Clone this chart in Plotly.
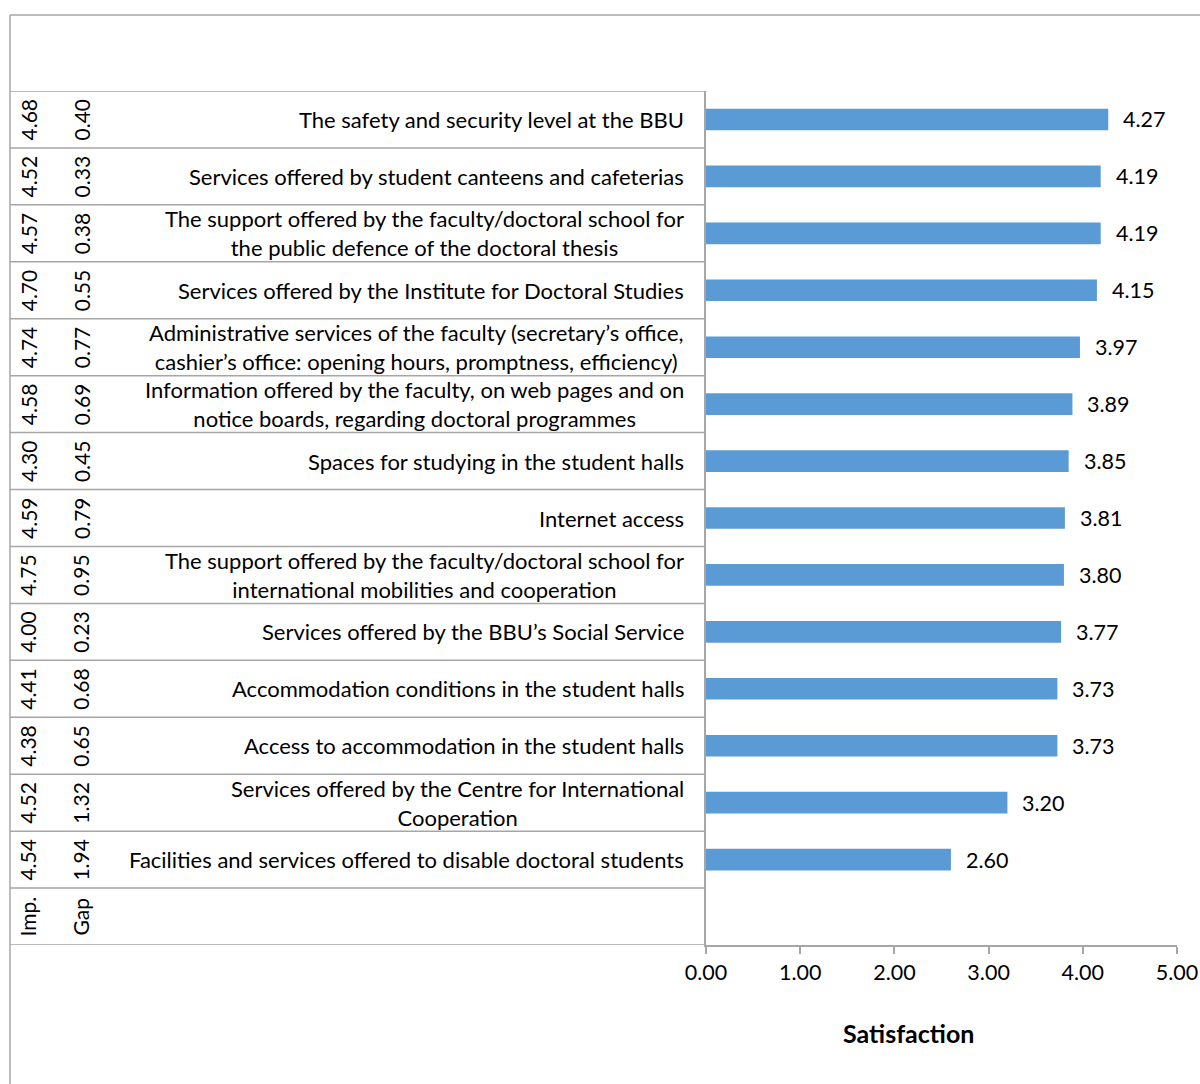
import plotly.graph_objects as go

# Survey items, top to bottom
items = [
    "The safety and security level at the BBU",
    "Services offered by student canteens and cafeterias",
    "The support offered by the faculty/doctoral school for<br>the public defence of the doctoral thesis",
    "Services offered by the Institute for Doctoral Studies",
    "Administrative services of the faculty (secretary\u2019s office,<br>cashier\u2019s office: opening hours, promptness, efficiency)",
    "Information offered by the faculty, on web pages and on<br>notice boards, regarding doctoral programmes",
    "Spaces for studying in the student halls",
    "Internet access",
    "The support offered by the faculty/doctoral school for<br>international mobilities and cooperation",
    "Services offered by the BBU\u2019s Social Service",
    "Accommodation conditions in the student halls",
    "Access to accommodation in the student halls",
    "Services offered by the Centre for International<br>Cooperation",
    "Facilities and services offered to disable doctoral students",
]
satisfaction = [4.27, 4.19, 4.19, 4.15, 3.97, 3.89, 3.85, 3.81, 3.80, 3.77, 3.73, 3.73, 3.20, 2.60]
importance = [4.68, 4.52, 4.57, 4.70, 4.74, 4.58, 4.30, 4.59, 4.75, 4.00, 4.41, 4.38, 4.52, 4.54]
gap = [0.40, 0.33, 0.38, 0.55, 0.77, 0.69, 0.45, 0.79, 0.95, 0.23, 0.68, 0.65, 1.32, 1.94]
x_ticks = [0, 1, 2, 3, 4, 5]

W, H = 1200, 1084
FONT = "Lato"
FS = 22
LINE = "#a6a6a6"
BAR = "#5b9bd5"

def px(x):
    return x / W

def py(y):
    return 1 - y / H

n = len(items)
rows = list(range(n))
header_row = n  # row holding the Imp./Gap captions

fig = go.Figure(go.Bar(
    x=satisfaction, y=rows, orientation="h",
    marker=dict(color=BAR, line=dict(width=0)),
    width=0.38, hoverinfo="skip",
))

annotations = []
shapes = []
txt = dict(family=FONT, size=FS, color="black")
rot = dict(family=FONT, size=21, color="black")

# value labels right of each bar
for i, v in enumerate(satisfaction):
    annotations.append(dict(x=v, y=i, xref="x", yref="y", text=f"{v:.2f}",
                            showarrow=False, xanchor="left", yanchor="middle", xshift=13,
                            font=dict(family=FONT, size=21.5, color="black")))

# table: item names, importance and gap columns
for i in rows:
    annotations.append(dict(x=px(686), y=i, xref="paper", yref="y", text=items[i],
                            showarrow=False, xanchor="right", yanchor="middle", align="center",
                            font=txt))
    annotations.append(dict(x=px(28), y=i, xref="paper", yref="y", text=f"{importance[i]:.2f}",
                            showarrow=False, textangle=-90, xanchor="center", yanchor="middle",
                            font=rot))
    annotations.append(dict(x=px(81), y=i, xref="paper", yref="y", text=f"{gap[i]:.2f}",
                            showarrow=False, textangle=-90, xanchor="center", yanchor="middle",
                            font=rot))
annotations.append(dict(x=px(28), y=header_row, xref="paper", yref="y", text="Imp.",
                        showarrow=False, textangle=-90, xanchor="center", yanchor="middle",
                        font=rot))
annotations.append(dict(x=px(81), y=header_row, xref="paper", yref="y", text="Gap",
                        showarrow=False, textangle=-90, xanchor="center", yanchor="middle",
                        font=rot))

# axis title
annotations.append(dict(x=px(909), y=py(1033), xref="paper", yref="paper", text="<b>Satisfaction</b>",
                        showarrow=False, xanchor="center", yanchor="middle",
                        font=dict(family=FONT, size=25, color="black")))

# table row rules
for k in range(n + 2):
    shapes.append(dict(type="line", xref="paper", yref="y", x0=px(10), x1=px(706),
                       y0=k - 0.5, y1=k - 0.5, line=dict(color=LINE, width=1.5)))
# outer frame
shapes.append(dict(type="line", xref="paper", yref="paper", x0=px(10), x1=1,
                   y0=py(15), y1=py(15), line=dict(color=LINE, width=1.5)))
shapes.append(dict(type="line", xref="paper", yref="paper", x0=px(10), x1=px(10),
                   y0=py(15), y1=0, line=dict(color=LINE, width=1.5)))

fig.update_layout(
    width=W, height=H,
    margin=dict(l=0, r=0, t=0, b=0, autoexpand=False),
    paper_bgcolor="white", plot_bgcolor="white",
    showlegend=False,
    annotations=annotations, shapes=shapes,
    xaxis=dict(domain=[px(706), px(1177)], range=[0, 5], tickvals=x_ticks,
               ticktext=[f"{t:.2f}" for t in x_ticks], automargin=False,
               showgrid=False, zeroline=False, showline=True, linecolor=LINE, linewidth=1.5,
               ticks="outside", ticklen=7, tickcolor=LINE, tickwidth=1.5,
               tickfont=dict(family=FONT, size=21.5, color="black")),
    yaxis=dict(domain=[py(945), py(91)], range=[n + 0.5, -0.5], automargin=False,
               showticklabels=False, showgrid=False, zeroline=False,
               showline=True, linecolor=LINE, linewidth=1.5, ticks=""),
)

fig.write_html("out.html")
